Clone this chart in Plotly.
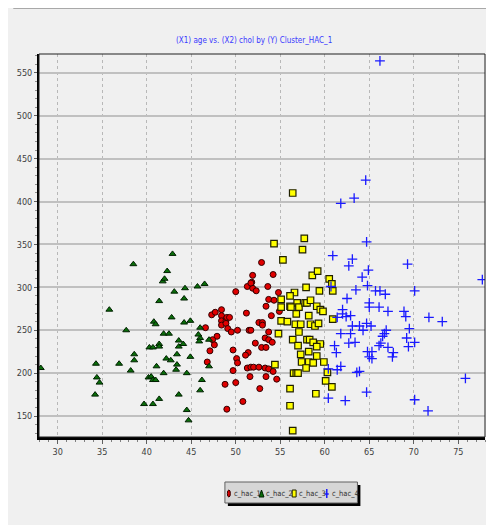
import plotly.graph_objects as go

# ---- data (age, chol) per cluster ----
c1_age = [52.9,51.9,54.2,51.8,51.3,51.9,52.3,53.6,54.8,50.0,53.7,54.3,53.4,54.9,47.3,47.7,48.4,48.4,48.4,48.9,
          49.0,49.3,48.4,48.9,46.6,49.1,49.5,50.2,51.2,51.5,51.7,52.6,53.0,54.0,53.7,53.3,53.7,54.1,52.9,53.4,
          52.2,47.9,47.4,47.6,47.1,49.7,46.8,50.1,50.2,51.4,51.1,51.3,51.7,52.0,52.6,53.3,53.7,54.2,49.7,51.6,
          53.4,54.6,48.8,50.0,52.7,50.8,49.0,51.7,53.0]
c1_chol = [329,314,315,306,301,299,296,301,294,295,286,285,278,272,268,271,274,267,261,261,
           265,265,256,258,253,252,248,250,270,250,250,259,259,267,248,241,239,236,230,230,
           235,243,239,233,226,227,213,217,212,224,221,206,207,207,207,206,205,202,203,196,
           196,193,187,189,182,167,158,305,256]

c2_age = [28.1,38.5,35.8,37.7,34.3,34.4,34.7,34.2,36.9,38.2,38.6,38.6,39.7,40.7,41.4,42.3,41.8,42.0,42.9,43.1,
          41.4,44.3,44.2,45.7,46.5,40.8,41.0,42.8,44.2,44.9,41.9,42.5,46.0,46.0,45.9,47.0,41.4,41.4,43.6,43.6,
          44.1,40.3,40.7,43.4,44.9,42.2,42.7,43.4,43.3,41.1,44.5,41.9,40.2,40.5,40.7,41.0,46.2,46.0,43.6,44.5,
          44.7,47.0,45.8]
c2_chol = [206,327,274,250,211,195,189,175,211,203,222,215,164,164,170,319,307,310,339,295,
           284,299,287,301,304,260,257,265,259,261,246,246,253,241,237,239,234,231,238,231,
           234,230,230,222,219,217,215,210,204,208,200,200,195,196,192,192,192,180,175,157,
           145,208,245]

c3_age = [56.4,57.7,57.5,54.3,55.3,58.6,59.2,60.5,60.8,60.9,57.9,59.4,56.6,56.1,56.1,55.1,56.9,57.1,57.8,58.0,
          58.4,59.1,59.5,59.8,56.8,58.2,55.1,55.8,56.7,57.3,58.4,58.9,59.3,60.9,54.8,57.1,56.4,58.0,58.3,58.7,
          59.5,57.0,59.1,57.3,58.2,59.1,57.4,58.2,58.7,57.9,59.9,56.5,56.8,57.0,60.3,60.1,60.8,56.1,59.0,56.1,
          56.4,55.1,54.4,56.2]
c3_chol = [410,357,344,351,332,314,319,310,304,296,300,296,294,290,278,286,282,277,282,282,
           285,278,274,272,269,267,261,260,257,257,257,255,258,263,246,248,239,239,239,236,
           234,232,231,222,225,220,213,213,212,206,213,200,200,200,201,191,184,182,176,162,
           133,277,210,277]

c4_age = [64.6,61.8,63.3,64.7,60.9,62.7,63.1,69.3,64.9,64.2,64.8,60.7,63.5,65.7,66.2,66.8,70.1,62.5,65.0,65.0,
          66.1,67.1,68.9,69.1,69.5,62.0,62.0,62.4,62.9,61.4,63.9,64.7,65.2,64.3,63.1,61.8,62.9,66.9,66.7,66.5,
          66.3,66.1,69.2,69.4,70.1,63.4,62.7,61.1,61.3,67.1,67.7,67.6,64.8,65.3,65.0,65.3,61.8,61.4,60.4,63.6,
          63.9,60.4,62.3,64.7,70.1,77.7,71.7,73.2,75.8,71.6,66.2]
c4_chol = [425,398,404,353,337,325,333,327,320,312,302,301,297,296,296,292,296,287,282,277,
           277,272,272,266,252,274,269,266,267,265,255,258,255,250,255,246,246,250,246,243,
           235,232,241,231,236,236,235,232,224,230,224,219,225,225,219,217,208,204,205,201,
           202,171,168,178,169,309,265,260,194,156,564]

cluster_names = ["c_hac_1", "c_hac_2", "c_hac_3", "c_hac_4"]
x_ticks = [30, 35, 40, 45, 50, 55, 60, 65, 70, 75]
y_ticks = [150, 200, 250, 300, 350, 400, 450, 500, 550]
title_text = "(X1) age vs. (X2) chol by (Y) Cluster_HAC_1"

NARROW = "DejaVu Sans Condensed, Liberation Sans Narrow, Liberation Sans, sans-serif"

OFF = 8  # page offset of the figure (body margin)
W, H = 486, 517
L, R, T, B = 26, 9, 46, 88
PW, PH = W - L - R, H - T - B


def px(xp):
    return (xp - OFF - L) / PW


def py(yp):
    return (H - B - (yp - OFF)) / PH


fig = go.Figure()
fig.add_trace(go.Scatter(x=c1_age, y=c1_chol, mode="markers", name=cluster_names[0],
                         marker=dict(symbol="circle", size=6, color="#e00000",
                                     line=dict(color="#300000", width=1))))
fig.add_trace(go.Scatter(x=c2_age, y=c2_chol, mode="markers", name=cluster_names[1],
                         marker=dict(symbol="triangle-up", size=6, color="#0a6e0a",
                                     line=dict(color="#002000", width=1))))
fig.add_trace(go.Scatter(x=c3_age, y=c3_chol, mode="markers", name=cluster_names[2],
                         marker=dict(symbol="square", size=6.5, color="#ffff00",
                                     line=dict(color="#202000", width=1.2))))
fig.add_trace(go.Scatter(x=c4_age, y=c4_chol, mode="markers", name=cluster_names[3],
                         marker=dict(symbol="cross-thin", size=7, color="#1a1aff",
                                     line=dict(color="#1a1aff", width=1.3))))

# legend geometry (page pixels)
LB_X0, LB_X1, LB_Y0, LB_Y1 = 222, 356, 482, 503
mk_x = [226, 259, 292, 325]
shapes = []
shapes.append(dict(type="line", xref="paper", yref="paper", layer="below",
                   x0=px(8), x1=px(494), y0=py(8.5), y1=py(8.5),
                   line=dict(color="#a8a8a8", width=1)))
shapes.append(dict(type="rect", xref="paper", yref="paper", layer="above",
                   x0=0, x1=1, y0=0, y1=1, line=dict(color="#202020", width=1)))
shapes.append(dict(type="rect", xref="paper", yref="paper",
                   x0=px(LB_X0 + 3), x1=px(LB_X1 + 3), y0=py(LB_Y1 + 3), y1=py(LB_Y0 + 3),
                   fillcolor="#000000", line=dict(width=0)))
shapes.append(dict(type="rect", xref="paper", yref="paper",
                   x0=px(LB_X0), x1=px(LB_X1), y0=py(LB_Y1), y1=py(LB_Y0),
                   fillcolor="#d6d6d6", line=dict(color="#606060", width=1)))
shapes.append(dict(type="circle", xref="paper", yref="paper",
                   x0=px(mk_x[0] - 1.5), x1=px(mk_x[0] + 1.5), y0=py(497), y1=py(490),
                   fillcolor="#e00000", line=dict(color="#300000", width=1)))
shapes.append(dict(type="path", xref="paper", yref="paper",
                   path=f"M {px(mk_x[1]-2.5)} {py(497)} L {px(mk_x[1]+2.5)} {py(497)} L {px(mk_x[1])} {py(490)} Z",
                   fillcolor="#0a6e0a", line=dict(color="#002000", width=1)))
shapes.append(dict(type="rect", xref="paper", yref="paper",
                   x0=px(mk_x[2] - 2), x1=px(mk_x[2] + 2), y0=py(497), y1=py(490),
                   fillcolor="#ffff00", line=dict(color="#202000", width=1)))
shapes.append(dict(type="line", xref="paper", yref="paper",
                   x0=px(mk_x[3]), x1=px(mk_x[3]), y0=py(498), y1=py(489),
                   line=dict(color="#1a1aff", width=1.5)))
shapes.append(dict(type="line", xref="paper", yref="paper",
                   x0=px(mk_x[3] - 2), x1=px(mk_x[3] + 2), y0=py(494), y1=py(494),
                   line=dict(color="#1a1aff", width=1.5)))

annotations = [dict(text=title_text, xref="paper", yref="paper", x=px(251), y=py(40),
                    xanchor="center", yanchor="middle", showarrow=False,
                    font=dict(family=NARROW, size=8, color="#3a3aff"))]
for name, xp in zip(cluster_names, mk_x):
    annotations.append(dict(text=name, xref="paper", yref="paper", x=px(xp + 3), y=py(493.5),
                            xanchor="left", yanchor="middle", showarrow=False,
                            font=dict(family=NARROW, size=7.5, color="#303030")))

fig.update_layout(
    width=W, height=H,
    margin=dict(l=L, r=R, t=T, b=B, pad=0),
    paper_bgcolor="#f0f0f0",
    plot_bgcolor="#f0f0f0",
    showlegend=False,
    shapes=shapes,
    annotations=annotations,
)
fig.update_xaxes(range=[27.9, 78], tickvals=x_ticks, ticktext=[str(v) for v in x_ticks],
                 showgrid=True, gridcolor="#b8b8b8", griddash="dot", gridwidth=1,
                 zeroline=False, showline=True, linecolor="#000000", linewidth=3,
                 ticks="outside", ticklen=4, tickcolor="#606060",
                 minor=dict(dtick=1, ticks="outside", ticklen=2, tickcolor="#808080", showgrid=False),
                 tickfont=dict(family=NARROW, size=9, color="#404040"))
fig.update_yaxes(range=[125.6, 572], tickvals=y_ticks, ticktext=[str(v) for v in y_ticks],
                 showgrid=True, gridcolor="#c0c0c0", gridwidth=1.5,
                 zeroline=False, showline=True, linecolor="#000000", linewidth=2,
                 ticks="outside", ticklen=3, tickcolor="#606060",
                 minor=dict(dtick=10, ticks="outside", ticklen=2, tickcolor="#909090", showgrid=False),
                 tickfont=dict(family=NARROW, size=9, color="#404040"))

fig.write_html("out.html")
